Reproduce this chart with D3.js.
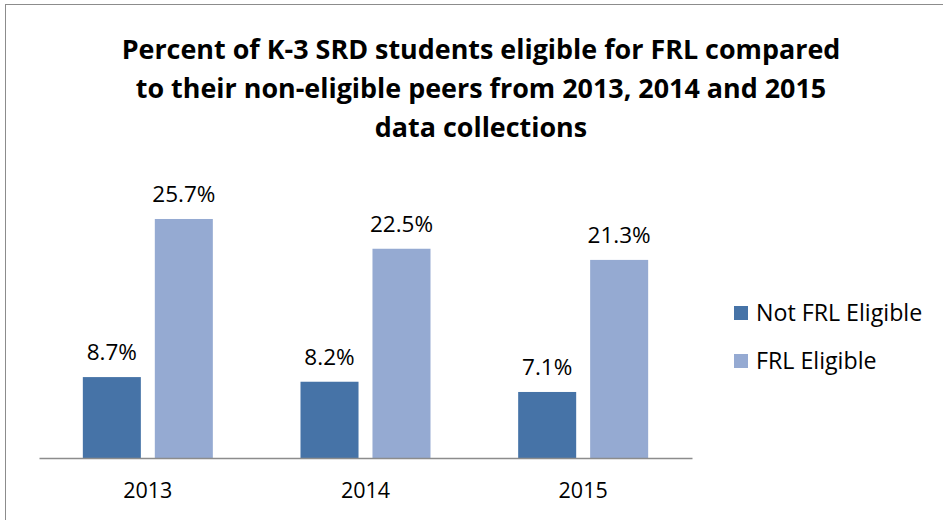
<!DOCTYPE html>
<html>
<head>
<meta charset="utf-8">
<script src="https://cdn.jsdelivr.net/npm/d3@7"></script>
<style>
  body { margin: 0; background: #fff; }
  svg { display: block; font-family: "Open Sans", sans-serif; }
</style>
</head>
<body>
<svg id="chart" width="943" height="520"></svg>
<script>
/* Data */
var years = ["2013", "2014", "2015"];
var seriesNames = ["Not FRL Eligible", "FRL Eligible"];
var notFrl = [8.7, 8.2, 7.1];
var frl = [25.7, 22.5, 21.3];
var titleLines = [
  "Percent of K-3 SRD students eligible for FRL compared",
  "to their non-eligible peers from 2013, 2014 and 2015",
  "data collections"
];
var colors = ["#4673a7", "#95aad2"];

var svg = d3.select("svg#chart");

// chart frame
svg.append("rect")
  .attr("x", 5.5).attr("y", 4.5)
  .attr("width", 960).attr("height", 540)
  .attr("fill", "none")
  .attr("stroke", "#8c8c8c");

/* Title */
svg.append("g")
  .selectAll("text")
  .data(titleLines)
  .enter()
  .append("text")
  .attr("x", 481)
  .attr("y", (d, i) => 59 + i * 39)
  .attr("text-anchor", "middle")
  .attr("font-weight", "bold")
  .attr("font-size", 26.9)
  .attr("fill", "#000")
  .text(d => d);

/* Scales */
var x0 = d3.scaleBand()
  .domain(years)
  .range([39, 692]);

var x1 = d3.scaleBand()
  .domain(seriesNames)
  .range([x0.bandwidth() / 2 - 65, x0.bandwidth() / 2 + 65])
  .paddingInner(0.194);

var y = d3.scaleLinear()
  .domain([0, 30])
  .range([458, 179]);

var rows = years.map((yr, i) => ({
  year: yr,
  vals: [
    { key: seriesNames[0], v: notFrl[i], c: colors[0] },
    { key: seriesNames[1], v: frl[i], c: colors[1] }
  ]
}));

var groups = svg.append("g")
  .selectAll("g")
  .data(rows)
  .enter()
  .append("g")
  .attr("transform", d => `translate(${x0(d.year)},0)`);

groups.selectAll("rect")
  .data(d => d.vals)
  .enter()
  .append("rect")
  .attr("x", d => x1(d.key))
  .attr("y", d => y(d.v))
  .attr("width", x1.bandwidth())
  .attr("height", d => y(0) - y(d.v))
  .attr("fill", d => d.c);

groups.selectAll("text")
  .data(d => d.vals)
  .enter()
  .append("text")
  .attr("x", d => x1(d.key) + x1.bandwidth() / 2)
  .attr("y", d => y(d.v) - 17)
  .attr("text-anchor", "middle")
  .attr("font-size", 22.5)
  .attr("fill", "#000")
  .text(d => d.v.toFixed(1) + "%");

/* X axis */
var xAxis = svg.append("g")
  .attr("transform", "translate(0,458)")
  .call(d3.axisBottom(x0).tickSize(0).tickPadding(25));

xAxis.select(".domain").attr("stroke", "#8c8c8c").attr("stroke-width", 1.5);
xAxis.selectAll("text")
  .attr("font-family", "Open Sans, sans-serif")
  .attr("font-size", 21.5)
  .attr("fill", "#000");

/* Legend */
var legend = svg.append("g")
  .selectAll("g")
  .data(seriesNames)
  .enter()
  .append("g")
  .attr("transform", (d, i) => `translate(734,${306 + i * 48})`);

legend.append("rect")
  .attr("width", 14).attr("height", 14)
  .attr("fill", (d, i) => colors[i]);

legend.append("text")
  .attr("x", 22)
  .attr("y", 15)
  .attr("font-size", 23.2)
  .attr("fill", "#000")
  .text(d => d);
</script>
</body>
</html>
